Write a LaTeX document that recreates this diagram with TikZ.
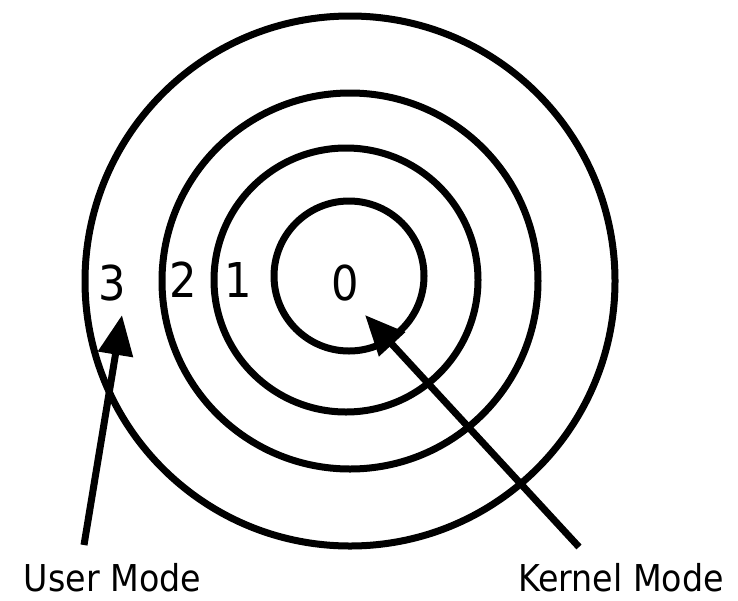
\documentclass[tikz,border=0pt]{standalone}
\usepackage{fontspec}
\newfontfamily\labfont{DejaVu Sans Condensed}
\usetikzlibrary{arrows.meta}
\begin{document}
\begin{tikzpicture}[x=0.5pt,y=-0.5pt,
  ring/.style={draw=black,line width=3.5pt,circle,inner sep=0pt,outer sep=0pt},
  digit/.style={font=\labfont\fontsize{24pt}{28pt}\selectfont,inner sep=0pt},
  modelabel/.style={font=\labfont\fontsize{18.5pt}{22pt}\selectfont,inner sep=0pt,anchor=base},
  pointer/.style={line width=3.5pt,-{Triangle[length=20pt,width=17pt]}}]
\useasboundingbox (0,0) rectangle (738,600);
\node[ring,minimum size=265pt] (ring3) at (350,281) {};
\node[ring,minimum size=188pt] (ring2) at (350,281) {};
\node[ring,minimum size=132pt] (ring1) at (346,280) {};
\node[ring,minimum size=75pt] (ring0) at (349,276) {};
\node[digit] (d3) at (112,283) {3};
\node[digit] (d2) at (183,280) {2};
\node[digit] (d1) at (238,280) {1};
\node[digit] (d0) at (345,283) {0};
\node[modelabel] (user) at (112.5,591) {User Mode};
\node[modelabel] (kernel) at (621,591) {Kernel Mode};
\coordinate (utail) at (84,545);
\coordinate (utip) at (122,315);
\coordinate (ktail) at (579,547);
\coordinate (ktip) at (365,315);
\draw[pointer] (utail) -- (utip);
\draw[pointer] (ktail) -- (ktip);
\end{tikzpicture}
\end{document}
